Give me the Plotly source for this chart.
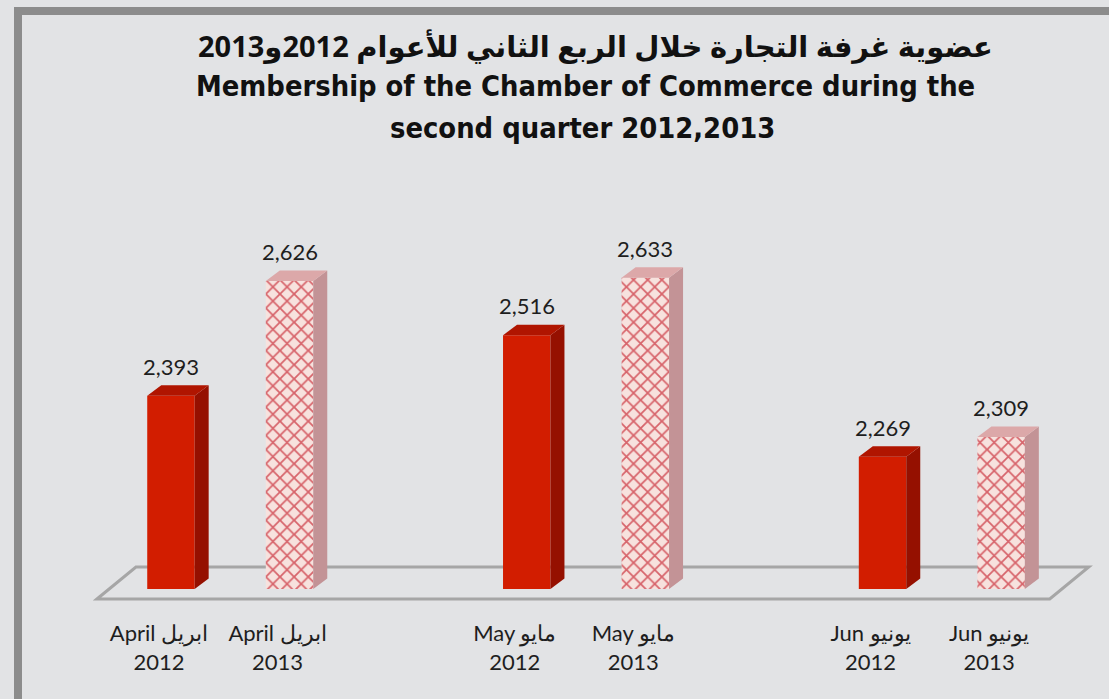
import plotly.graph_objects as go

# ---------------- data ----------------
months_en = ["April", "May", "Jun"]
months_ar = ["ابريل", "مايو", "يونيو"]
years = ["2012", "2013"]
members_2012 = [2393, 2516, 2269]
members_2013 = [2626, 2633, 2309]

title_ar = "عضوية غرفة التجارة خلال الربع الثاني للأعوام 2012و2013"
title_en_1 = "Membership of the Chamber of Commerce during the"
title_en_2 = "second quarter 2012,2013"

# ---------------- layout constants ----------------
W, H = 1109, 699
ML, MR, MT, MB = 82, 13, 195, 80
X_RANGE = [-0.75, 7.8]
Y_RANGE = [1939, 2801]
BASE = 2000
BAR_W = 0.40
plot_w = W - ML - MR
plot_h = H - MT - MB
px_x = plot_w / (X_RANGE[1] - X_RANGE[0])
px_y = plot_h / (Y_RANGE[1] - Y_RANGE[0])
DX = 14 / px_x          # depth offset (x) of the 3D effect
DY = 10.5 / px_y        # depth offset (y)

BG = "#e2e3e5"
FONT_NUM = "Lato, 'Open Sans', sans-serif"
FONT_TITLE = "'DejaVu Sans Condensed', 'Liberation Sans Narrow', sans-serif"

# bar positions: group index * 3 + year index
series = [members_2012, members_2013]
xs = {0: [], 1: []}
for g in range(len(months_en)):
    for i in range(2):
        xs[i].append(g * 3 + i)

styles = {
    0: dict(front="#d21d00", side="#951000", top="#b01500"),
    1: dict(front="#f6dedb", side="#c39396", top="#dca8a9"),
}

fig = go.Figure()

# side and top faces (3D look)
for i in range(2):
    for x, v in zip(xs[i], series[i]):
        xr = x + BAR_W / 2
        xl = x - BAR_W / 2
        fig.add_trace(go.Scatter(
            x=[xr, xr + DX, xr + DX, xr, xr],
            y=[BASE, BASE + DY, v + DY, v, BASE],
            mode="lines", fill="toself", fillcolor=styles[i]["side"],
            line=dict(width=0), hoverinfo="skip", showlegend=False))
        fig.add_trace(go.Scatter(
            x=[xl, xr, xr + DX, xl + DX, xl],
            y=[v, v, v + DY, v + DY, v],
            mode="lines", fill="toself", fillcolor=styles[i]["top"],
            line=dict(width=0), hoverinfo="skip", showlegend=False))

# front faces
fig.add_trace(go.Bar(
    x=xs[0], y=[v - BASE for v in members_2012], base=BASE, width=BAR_W,
    marker=dict(color=styles[0]["front"], line=dict(width=0)),
    hoverinfo="skip", showlegend=False))
fig.add_trace(go.Bar(
    x=xs[1], y=[v - BASE for v in members_2013], base=BASE, width=BAR_W,
    marker=dict(color=styles[1]["front"], line=dict(width=0),
                pattern=dict(shape="x", fgcolor="#d7646b", bgcolor="#f7e2de",
                             size=10, solidity=0.32, fillmode="replace")),
    hoverinfo="skip", showlegend=False))

# value labels
for i in range(2):
    for x, v in zip(xs[i], series[i]):
        fig.add_annotation(x=x, y=v, text=f"{v:,}", showarrow=False,
                           yanchor="bottom", yshift=14,
                           font=dict(family=FONT_NUM, size=22, color="#1e1e1e"))

# floor (parallelogram)
fx0 = X_RANGE[0] + 0.126
fx1 = X_RANGE[1] - 0.39
floor_front = BASE - 10 / px_y
floor_back = BASE + 22 / px_y
shift = 39 / px_x
fig.add_shape(type="path",
              path=(f"M {fx0},{floor_front} L {fx0 + shift},{floor_back} "
                    f"L {fx1 + shift},{floor_back} L {fx1},{floor_front} Z"),
              xref="x", yref="y", line=dict(color="#a6a6a6", width=3),
              fillcolor=BG, layer="below")

# frame
def px2paper_x(p):
    return (p - ML) / plot_w

def px2paper_y(p):
    return 1 + (MT - p) / plot_h

fig.add_shape(type="rect", xref="paper", yref="paper",
              x0=px2paper_x(18), x1=px2paper_x(1140),
              y0=px2paper_y(730), y1=px2paper_y(11),
              line=dict(color="#8c8c8c", width=8), fillcolor="rgba(0,0,0,0)")

# titles
fig.add_annotation(xref="paper", yref="paper", x=px2paper_x(595), y=px2paper_y(45),
                   yanchor="middle", xanchor="center",
                   text=f"<b>{title_ar}</b>", showarrow=False,
                   font=dict(family="'Noto Sans', 'DejaVu Sans', sans-serif", size=29, color="#111"))
fig.add_annotation(xref="paper", yref="paper", x=px2paper_x(585), y=px2paper_y(86),
                   yanchor="middle", xanchor="center",
                   text=f"<b>{title_en_1}</b>", showarrow=False,
                   font=dict(family=FONT_TITLE, size=28.8, color="#111"))
fig.add_annotation(xref="paper", yref="paper", x=px2paper_x(582), y=px2paper_y(128),
                   yanchor="middle", xanchor="center",
                   text=f"<b>{title_en_2}</b>", showarrow=False,
                   font=dict(family=FONT_TITLE, size=28.8, color="#111"))

tickvals = xs[0] + xs[1]
ticktext = ([f"{months_en[g]} {months_ar[g]}<br>{years[0]}" for g in range(3)] +
            [f"{months_en[g]} {months_ar[g]}<br>{years[1]}" for g in range(3)])

fig.update_layout(
    width=W, height=H,
    margin=dict(l=ML, r=MR, t=MT, b=MB),
    paper_bgcolor=BG, plot_bgcolor=BG,
    barmode="overlay",
    xaxis=dict(range=X_RANGE, showgrid=False, zeroline=False, showline=False,
               tickvals=tickvals, ticktext=ticktext, ticks="",
               ticklabelshift=-12, ticklabelstandoff=-1,
               tickfont=dict(family=FONT_NUM, size=22, color="#1e1e1e"),
               fixedrange=True),
    yaxis=dict(range=Y_RANGE, visible=False, fixedrange=True),
    showlegend=False,
)

fig.write_html("out.html", config={"displayModeBar": False},
               post_script="document.body.style.margin='0px';")
